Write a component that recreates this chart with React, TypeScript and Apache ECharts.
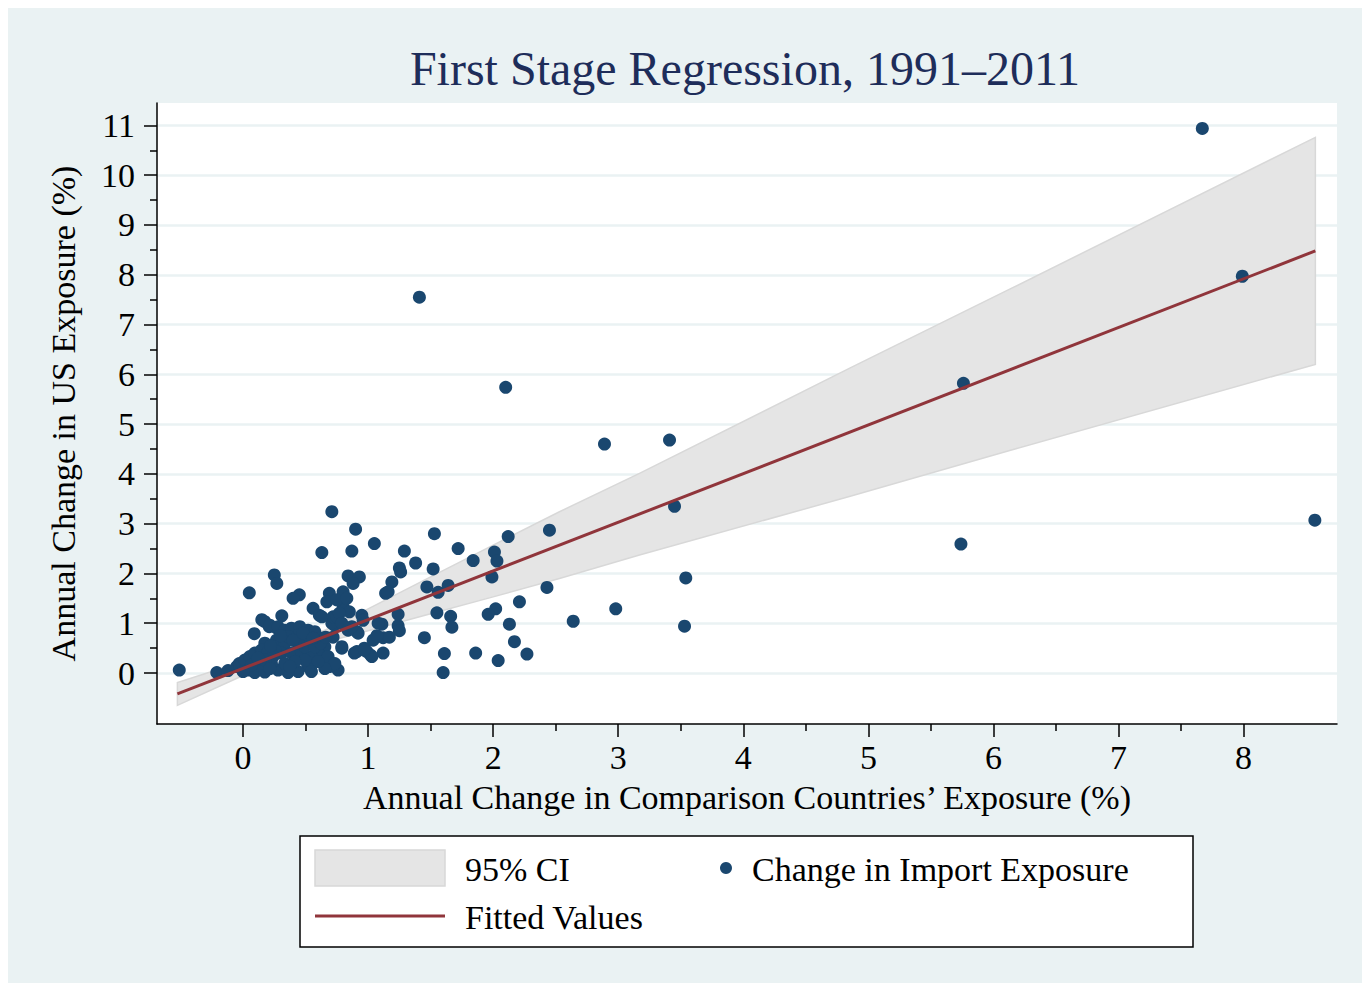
import React, { useEffect, useRef } from "react";
import * as echarts from "echarts";

const TITLE = "First Stage Regression, 1991–2011";
const X_NAME = "Annual Change in Comparison Countries’ Exposure (%)";
const Y_NAME = "Annual Change in US Exposure (%)";

const xTicks = [0, 1, 2, 3, 4, 5, 6, 7, 8];
const xMinorTicks = [0.5, 1.5, 2.5, 3.5, 4.5, 5.5, 6.5, 7.5];
const yTicks = [0, 1, 2, 3, 4, 5, 6, 7, 8, 9, 10, 11];
const yMinorTicks = [0.5, 1.5, 2.5, 3.5, 4.5, 5.5, 6.5, 7.5, 8.5, 9.5, 10.5];

// 95% CI band
const ciX = [-0.525, 0, 0.3, 0.7, 1.0, 1.5, 2.0, 2.53, 3.17, 4.855, 6.13, 8.574];
const ciLo = [-0.65, -0.05, 0.29, 0.65, 0.85, 1.19, 1.53, 1.9, 2.37, 3.55, 4.47, 6.2];
const ciHi = [-0.19, 0.23, 0.49, 0.91, 1.29, 1.93, 2.57, 3.24, 4.01, 6.13, 7.71, 10.76];

// Fitted values
const fitX = [-0.525, 8.574];
const fitY = [-0.42, 8.48];

// Change in import exposure: outliers and spread
const spreadPoints = [
  [-0.51, 0.06], [-0.21, 0.01], [-0.12, 0.05], [-0.05, 0.13], [-0.03, 0.19],
  [7.67, 10.94], [7.99, 7.97], [5.76, 5.82], [5.74, 2.59], [8.57, 3.07],
  [1.41, 7.55], [2.10, 5.74], [2.89, 4.60], [3.41, 4.68], [3.45, 3.35],
  [3.54, 1.91], [3.53, 0.94], [2.98, 1.29], [2.64, 1.04], [2.45, 2.87],
  [2.43, 1.72], [2.12, 2.74], [2.21, 1.43], [2.01, 2.43], [2.03, 2.25],
  [1.99, 1.93], [2.02, 1.29], [1.96, 1.18], [2.13, 0.98], [2.17, 0.63],
  [2.27, 0.38], [2.04, 0.25], [1.86, 0.40], [1.84, 2.26], [1.72, 2.50],
  [1.53, 2.80], [1.52, 2.09], [1.56, 1.62], [1.64, 1.76], [1.47, 1.73],
  [1.55, 1.21], [1.66, 1.14], [1.67, 0.92], [1.45, 0.71], [1.61, 0.39],
  [1.60, 0.01], [1.38, 2.21], [1.29, 2.45], [1.25, 2.11], [1.26, 2.03],
  [1.19, 1.83], [1.14, 1.60], [1.16, 1.63], [1.24, 1.18], [1.24, 0.95],
  [1.25, 0.85], [1.11, 0.98], [1.12, 0.71], [1.17, 0.72], [1.04, 0.66],
  [1.07, 0.75], [1.12, 0.40], [1.02, 0.36], [0.97, 0.50], [0.89, 0.40],
  [0.79, 0.50], [0.76, 0.06], [0.67, 0.23], [0.69, 0.13], [0.95, 1.16],
  [0.91, 0.83], [0.92, 0.80], [0.84, 0.86], [0.87, 0.93], [0.72, 0.72],
  [0.73, 0.96], [0.71, 1.00], [0.72, 1.13], [0.75, 1.13], [0.80, 1.33],
  [0.85, 1.23], [0.56, 1.30], [0.61, 1.16], [0.69, 1.60], [0.80, 1.63],
  [0.67, 1.43], [0.75, 1.47], [0.83, 1.50], [0.45, 1.57], [0.40, 1.50],
  [0.71, 3.24], [0.90, 2.89], [1.05, 2.60], [0.63, 2.42], [0.87, 2.45],
  [0.84, 1.95], [0.93, 1.93], [0.88, 1.80], [0.25, 1.97], [0.27, 1.80],
  [0.05, 1.61], [0.31, 1.15], [0.15, 1.07], [0.09, 0.79], [0.21, 0.93],
  [0.27, 0.90], [0.63, 1.13], [0.77, 1.20], [0.79, 1.00], [0.79, 0.53],
  [0.91, 0.43], [0.99, 0.43], [1.03, 0.33], [0.96, 1.06], [1.08, 1.00],
  [0.97, 0.46],
];

// Change in import exposure: dense cluster near the origin
const clusterPoints = [
  [0.174, 1.03], [0.214, 0.96], [0.28, 0.93], [0.334, 0.86], [0.387, 0.90],
  [0.454, 0.93], [0.52, 0.86], [0.574, 0.83], [0.44, 0.76], [0.52, 0.66],
  [0.614, 0.70], [0.654, 0.53], [0.60, 0.40], [0.68, 0.33], [0.734, 0.19],
  [0.654, 0.09], [0.52, 0.13], [0.44, 0.03], [0.36, 0.01], [0.28, 0.06],
  [0.227, 0.19], [0.174, 0.33], [0.174, 0.60], [0.267, 0.66], [0.334, 0.60],
  [0.307, 0.40], [0.387, 0.40], [0.467, 0.43], [0.547, 0.33], [0.494, 0.26],
  [0.414, 0.23], [0.334, 0.19], [0.254, 0.46], [0.36, 0.73], [0.494, 0.53],
  [0.574, 0.53], [0.44, 0.60], [0.60, 0.23], [0.374, 0.13], [0.547, 0.03],
  [-0.026, 0.13], [0.014, 0.26], [0.054, 0.33], [0.094, 0.40], [0.147, 0.46],
  [0.20, 0.43], [0.24, 0.33], [0.04, 0.06], [0.094, 0.01], [0.174, 0.02],
  [0.134, 0.19], [0.067, 0.16], [0.174, 0.26], [0.214, 0.09], [0.0, 0.03],
  [0.12, 0.30], [0.22, 0.55], [0.30, 0.75], [0.40, 0.66], [0.48, 0.80],
  [0.62, 0.60], [0.66, 0.72], [0.56, 0.70],
];

const SERIF = '"Liberation Serif", "DejaVu Serif", serif';
const BG = "#eaf2f3";
const DOT = "#1a476f";
const FIT = "#90353b";
const CI_FILL = "#e5e5e5";
const CI_STROKE = "#d8d8d8";

export default function App() {
  const ref = useRef<HTMLDivElement>(null);

  useEffect(() => {
    if (!ref.current) return;
    const chart = echarts.init(ref.current, undefined, { renderer: "svg" });

    const ciData = ciX.map((x, i) => [x, ciLo[i], ciHi[i]]);
    const fitData = fitX.map((x, i) => [x, fitY[i]]);
    const scatterData = [...spreadPoints, ...clusterPoints];

    const xMin = -0.688;
    const xMax = 8.747;
    const yMin = -1.024;
    const yMax = 11.45;

    const tickLabel = { fontSize: 34, fontFamily: SERIF, color: "#000" };

    const option: any = {
      animation: false,
      backgroundColor: BG,
      grid: {
        left: 149,
        top: 95,
        width: 1180,
        height: 621,
        show: true,
        backgroundColor: "#ffffff",
        borderWidth: 0,
        outerBoundsMode: "none",
      },
      xAxis: [
        {
          type: "value",
          min: xMin,
          max: xMax,
          name: X_NAME,
          nameLocation: "middle",
          nameGap: 56,
          nameTextStyle: { fontSize: 34, fontFamily: SERIF, color: "#000" },
          axisLine: { show: true, onZero: false, lineStyle: { color: "#000", width: 1.5 } },
          axisTick: { show: true, customValues: xTicks, length: 13, lineStyle: { color: "#000", width: 1.5 } },
          axisLabel: { show: true, customValues: xTicks, margin: 16, ...tickLabel },
          splitLine: { show: false },
        },
        {
          type: "value",
          min: xMin,
          max: xMax,
          position: "bottom",
          axisLine: { show: false, onZero: false },
          axisTick: { show: true, customValues: xMinorTicks, length: 7, lineStyle: { color: "#000", width: 1.5 } },
          axisLabel: { show: false },
          splitLine: { show: false },
        },
      ],
      yAxis: [
        {
          type: "value",
          min: yMin,
          max: yMax,
          name: Y_NAME,
          nameLocation: "middle",
          nameGap: 77,
          nameTextStyle: { fontSize: 34, fontFamily: SERIF, color: "#000" },
          axisLine: { show: true, onZero: false, lineStyle: { color: "#000", width: 1.5 } },
          axisTick: { show: true, customValues: yTicks, length: 13, lineStyle: { color: "#000", width: 1.5 } },
          axisLabel: { show: true, customValues: yTicks, margin: 22, ...tickLabel },
          splitLine: { show: true, lineStyle: { color: BG, width: 2.5 } },
        },
        {
          type: "value",
          min: yMin,
          max: yMax,
          position: "left",
          axisLine: { show: false, onZero: false },
          axisTick: { show: true, customValues: yMinorTicks, length: 7, lineStyle: { color: "#000", width: 1.5 } },
          axisLabel: { show: false },
          splitLine: { show: false },
        },
      ],
      series: [
        {
          type: "custom",
          name: "95% CI",
          xAxisIndex: 0,
          yAxisIndex: 0,
          clip: true,
          z: 1,
          silent: true,
          data: ciData,
          encode: { x: 0, y: [1, 2] },
          renderItem: (params: any, api: any) => {
            if (params.dataIndex !== 0) return null;
            const pts: number[][] = [];
            for (let i = 0; i < ciData.length; i++) pts.push(api.coord([ciData[i][0], ciData[i][1]]));
            for (let i = ciData.length - 1; i >= 0; i--) pts.push(api.coord([ciData[i][0], ciData[i][2]]));
            return {
              type: "polygon",
              shape: { points: pts },
              style: { fill: CI_FILL, stroke: CI_STROKE, lineWidth: 1.5 },
            };
          },
        },
        {
          type: "scatter",
          name: "Change in Import Exposure",
          xAxisIndex: 0,
          yAxisIndex: 0,
          z: 2,
          symbol: "circle",
          symbolSize: 13,
          itemStyle: { color: DOT, opacity: 1 },
          data: scatterData,
        },
        {
          type: "line",
          name: "Fitted Values",
          xAxisIndex: 0,
          yAxisIndex: 0,
          z: 3,
          showSymbol: false,
          symbol: "none",
          lineStyle: { color: FIT, width: 3 },
          data: fitData,
        },
      ],
      graphic: [
        {
          type: "text",
          x: 737,
          y: 60,
          style: {
            text: TITLE,
            font: `48px ${SERIF}`,
            fill: "#1e2d5a",
            align: "center",
            verticalAlign: "middle",
          },
        },
        {
          type: "rect",
          shape: { x: 292, y: 828, width: 893, height: 111 },
          style: { fill: "#ffffff", stroke: "#000", lineWidth: 1.5 },
        },
        {
          type: "rect",
          shape: { x: 307, y: 842, width: 130, height: 36 },
          style: { fill: CI_FILL, stroke: CI_STROKE, lineWidth: 1.5 },
        },
        {
          type: "text",
          x: 457,
          y: 861,
          style: { text: "95% CI", font: `34px ${SERIF}`, fill: "#000", verticalAlign: "middle" },
        },
        {
          type: "circle",
          shape: { cx: 718, cy: 860, r: 6 },
          style: { fill: DOT },
        },
        {
          type: "text",
          x: 744,
          y: 861,
          style: { text: "Change in Import Exposure", font: `34px ${SERIF}`, fill: "#000", verticalAlign: "middle" },
        },
        {
          type: "line",
          shape: { x1: 307, y1: 908, x2: 437, y2: 908 },
          style: { stroke: FIT, lineWidth: 3 },
        },
        {
          type: "text",
          x: 457,
          y: 909,
          style: { text: "Fitted Values", font: `34px ${SERIF}`, fill: "#000", verticalAlign: "middle" },
        },
      ],
    };

    chart.setOption(option);
    return () => chart.dispose();
  }, []);

  return <div ref={ref} style={{ width: 1355, height: 975 }} />;
}
